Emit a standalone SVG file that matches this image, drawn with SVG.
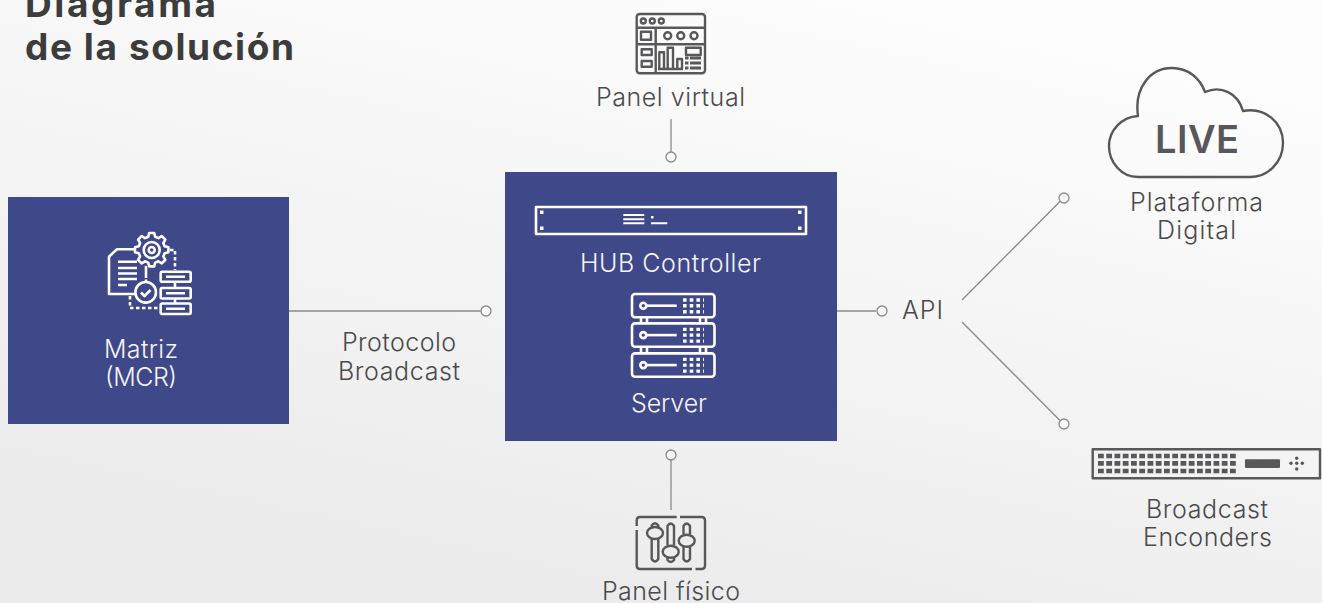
<svg xmlns="http://www.w3.org/2000/svg" width="1322" height="603" viewBox="0 0 1322 603">
<style>
text{font-family:Inter,"Open Sans","Liberation Sans",sans-serif;font-size:25px;font-weight:300;fill:#4a4a4c;text-anchor:start}
.w{fill:#f4f4fa}
.t{font-size:37px;font-weight:700;fill:#3c3c3c}
.box{fill:#3f4889}
.wl{fill:none;stroke:#fff;stroke-width:2.600;stroke-linejoin:round}
.wf{fill:#fff}
.gl{fill:none;stroke:#58585a;stroke-width:2.400;stroke-linejoin:round}
.gf{fill:#58585a}
.con{fill:none;stroke:#8a8a8a;stroke-width:1.300}
.dot{fill:#f8f8f8;stroke:#8a8a8a;stroke-width:1.300}
</style>
<defs>
<linearGradient id="bg" gradientUnits="userSpaceOnUse" x1="760" y1="-20" x2="620" y2="620">
<stop offset="0" stop-color="#fdfdfd"/><stop offset="1" stop-color="#ebebeb"/>
</linearGradient>
<g id="unit">
<rect class="wl" x="632" y="0" width="82.500" height="23.300" rx="3"/>
<circle class="wl" cx="643.300" cy="11.700" r="3"/>
<path class="wl" d="M646.500 11.700H676.700"/>
<path d="M683 6H704M683 11.700H704M683 17.700H704" fill="none" stroke="#fff" stroke-width="3.400" stroke-dasharray="3.600 3.100"/>
</g>
</defs>
<rect width="1322" height="603" fill="url(#bg)"/>
<g id="title">
<text class="t" x="25" y="17" textLength="191" lengthAdjust="spacing">Diagrama</text>
<text class="t" x="25" y="60" textLength="269" lengthAdjust="spacing">de la solución</text>
</g>
<g id="connectors">
<path class="con" d="M289 311H481"/><circle class="dot" cx="486" cy="311" r="5"/>
<path class="con" d="M671 119V152"/><circle class="dot" cx="671" cy="157" r="5"/>
<path class="con" d="M671 460V510"/><circle class="dot" cx="671" cy="455" r="5"/>
<path class="con" d="M837 311H876"/><circle class="dot" cx="882" cy="311" r="5"/>
<path class="con" d="M962 300L1060 201.500"/><circle class="dot" cx="1064" cy="198" r="5"/>
<path class="con" d="M962 322L1060 420.500"/><circle class="dot" cx="1064" cy="424" r="5"/>
</g>
<g id="protocolo">
<text x="342" y="351" textLength="114" lengthAdjust="spacing">Protocolo</text>
<text x="338" y="380" textLength="122" lengthAdjust="spacing">Broadcast</text>
</g>
<g id="api"><text x="902" y="319" textLength="41" lengthAdjust="spacing">API</text></g>
<g id="matriz">
<rect class="box" x="8" y="197" width="281" height="227"/>
<path class="wl" d="M135 249.300H117L109 256.700V294H135"/>
<path class="wl" d="M149.200 233h5l1 3.800 3.200 1.300 3.400-2 3.500 3.500-2 3.400 1.300 3.200 3.800 1v5l-3.800 1-1.300 3.200 2 3.400-3.500 3.500-3.400-2-3.200 1.300-1 3.800h-5l-1-3.800-3.200-1.300-3.400 2-3.500-3.500 2-3.400-1.300-3.200-3.800-1v-5l3.800-1 1.300-3.200-2-3.400 3.500-3.500 3.400 2 3.200-1.300z"/>
<circle class="wl" cx="151.700" cy="250" r="8"/><circle class="wl" cx="151.700" cy="250" r="3"/>
<path class="wl" d="M146 266V278M146 279.500V282"/>
<circle class="wl" cx="145.700" cy="292.300" r="10.300"/>
<path class="wl" d="M141 292.500l3.500 3.500 6-6"/>
<path class="wl" d="M118 261.700H137M118 268H137M118 273.500H137M118 279H137M118 285H127"/>
<rect class="wl" x="160.700" y="271.700" width="30" height="10" rx="1.500"/>
<rect class="wl" x="160.700" y="288" width="30" height="10.500" rx="1.500"/>
<rect class="wl" x="160.700" y="303.500" width="30" height="10.500" rx="1.500"/>
<path class="wl" d="M166 276.700H185M166 293.300H185M166 308.700H185M175 281.700V288.300M175 298.300V303.500"/>
<path class="wl" stroke-dasharray="3.500 2.500" d="M170 250H175V270"/>
<path class="wl" stroke-dasharray="3.500 2.500" d="M130 296V308H160"/>
<text class="w" x="104" y="358" textLength="74" lengthAdjust="spacing">Matriz</text>
<text class="w" x="105" y="386" textLength="72" lengthAdjust="spacing">(MCR)</text>
</g>
<g id="hub">
<rect class="box" x="505" y="172" width="332" height="269"/>
<rect class="wl" x="536" y="207" width="270" height="27"/>
<path class="wf" d="M540 210.500h3.500v3.500h-3.500zM540 226.500h3.500v3.500h-3.500zM798 210.500h3.500v3.500h-3.500zM798 226.500h3.500v3.500h-3.500zM651 216h2.500v2.500h-2.500z"/>
<path class="wl" d="M623.300 215H644.300M623.300 219.200H644.300M623.300 223.300H644.300M651 223.300H667.300" style="stroke-width:2"/>
<text class="w" x="580" y="272" textLength="181" lengthAdjust="spacing">HUB Controller</text>
<path class="wl" d="M641 317.300V323.300M647 317.300V323.300M700 317.300V323.300M706 317.300V323.300M641 346.700V353.300M647 346.700V353.300M700 346.700V353.300M706 346.700V353.300"/>
<use href="#unit" y="294"/><use href="#unit" y="323.400"/><use href="#unit" y="353.400"/>
<text class="w" x="631" y="412" textLength="76" lengthAdjust="spacing">Server</text>
</g>
<g id="panel-virtual">
<rect class="gl" x="636.700" y="14" width="68.300" height="59.300" rx="3"/>
<path class="gl" d="M636.700 27.700H705M636.700 44.300H705M655.700 27.700V73.300"/>
<circle class="gl" cx="643.300" cy="21" r="2.500"/><circle class="gl" cx="652.300" cy="21" r="2.500"/><circle class="gl" cx="661.300" cy="21" r="2.500"/>
<rect class="gl" x="641" y="31.700" width="10" height="8"/>
<circle class="gl" cx="667.700" cy="35.700" r="3.500"/><circle class="gl" cx="680.700" cy="35.700" r="3.500"/><circle class="gl" cx="694" cy="35.700" r="3.500"/>
<rect class="gl" x="641.700" y="49.300" width="10" height="5.700"/><rect class="gl" x="641.700" y="61" width="10" height="5.700"/>
<path class="gl" d="M659.300 69V52.300H664V69M667.700 69V47.700H673V69M677.300 69V59H682V69M658 69H683"/>
<rect class="gl" x="686" y="47.700" width="14.700" height="7.300"/>
<path class="gl" style="stroke-width:2.800" d="M685 58H688.500M690 58H701M685 63H688.500M690 63H701M685 68H688.500M690 68H701"/>
<text x="596" y="106" textLength="149" lengthAdjust="spacing">Panel virtual</text>
</g>
<g id="panel-fisico">
<path class="gl" d="M676.700 517H640Q636.700 517 636.700 520.500V526M636.700 530V565.500Q636.700 569 640 569H692M695.500 569H701.500Q705 569 705 565.500V520.500Q705 517 701.500 517H680"/>
<path class="gl" d="M651.700 527V525.500Q655 521 658.300 525.500V527M651.700 539V559Q655 564 658.300 559V539"/>
<ellipse class="gl" cx="655" cy="533" rx="8" ry="6"/>
<path class="gl" d="M667.500 545V526Q670.700 521 674 526V545M667.500 558V560Q670.700 564 674 560V558"/>
<ellipse class="gl" cx="670.700" cy="551.700" rx="8" ry="6"/>
<path class="gl" d="M683.500 534V526Q686.700 521 690 526V534M683.500 547V559Q686.700 564 690 559V547"/>
<ellipse class="gl" cx="686.700" cy="540.700" rx="8" ry="6"/>
<text x="602" y="600" textLength="138" lengthAdjust="spacing">Panel físico</text>
</g>
<g id="plataforma">
<path class="gl" d="M1138 177C1121 177 1109 162 1109 146C1109 130 1122 117 1138 116C1134 88 1150 68 1172 68C1188 68 1200 78 1205 92C1221 85 1238 93 1243 111C1265 107 1283 122 1283 143C1283 162 1268 177 1250 177Z"/>
<text x="1155" y="153" style="font-size:38px;font-weight:600;fill:#58585a" textLength="84" lengthAdjust="spacing">LIVE</text>
<text x="1130" y="211" textLength="133" lengthAdjust="spacing">Plataforma</text>
<text x="1157" y="239" textLength="79" lengthAdjust="spacing">Digital</text>
</g>
<g id="encoders">
<rect class="gl" x="1092.700" y="449.300" width="227.300" height="29"/>
<path d="M1098 456H1236M1098 463.300H1236M1098 471H1236" fill="none" stroke="#58585a" stroke-width="4.700" stroke-dasharray="5.800 2.450"/>
<rect class="gf" x="1245" y="459.300" width="35" height="8.700" rx="1"/>
<circle class="gf" cx="1296.700" cy="458.300" r="1.700"/><circle class="gf" cx="1296.700" cy="463.300" r="1.700"/><circle class="gf" cx="1296.700" cy="469" r="1.700"/><circle class="gf" cx="1291" cy="463.300" r="1.700"/><circle class="gf" cx="1302.300" cy="463.300" r="1.700"/>
<text x="1146" y="518" textLength="122" lengthAdjust="spacing">Broadcast</text>
<text x="1143" y="546" textLength="129" lengthAdjust="spacing">Enconders</text>
</g>
</svg>
